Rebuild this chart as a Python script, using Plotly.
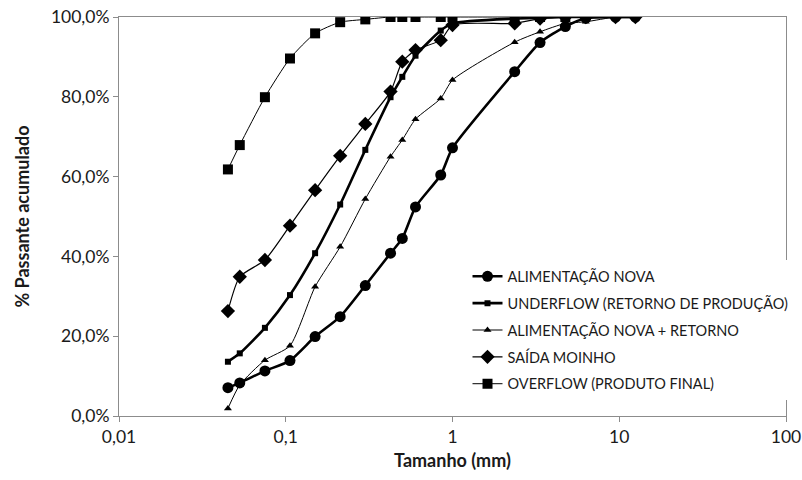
import plotly.graph_objects as go

# Sieve sizes (mm)
sizes = [0.045, 0.053, 0.075, 0.106, 0.150, 0.212, 0.300, 0.425, 0.500, 0.600,
         0.850, 1.00, 2.36, 3.35, 4.75, 6.3, 9.5, 12.5]

alim_nova = [7.1, 8.3, 11.3, 13.9, 19.9, 24.9, 32.7, 40.8, 44.5, 52.4,
             60.4, 67.2, 86.3, 93.6, 97.6, 99.7, 100.0, 100.0]
underflow = [13.6, 15.7, 22.1, 30.3, 40.8, 53.0, 66.7, 79.9, 85.0, 90.3,
             96.6, 98.4, 99.6, 99.8, 100.0, 100.0, 100.0, 100.0]
alim_ret = [1.9, 7.8, 14.0, 17.6, 32.4, 42.4, 54.4, 65.0, 69.2, 74.4,
            79.6, 84.2, 93.7, 96.3, 98.4, 98.8, 100.0, 100.0]
saida = [26.3, 34.9, 39.1, 47.7, 56.6, 65.2, 73.2, 81.3, 88.8, 91.7,
         94.2, 98.0, 98.4, 99.6, 100.0, 100.0, 100.0, 100.0]
overflow_sizes = [0.045, 0.053, 0.075, 0.106, 0.150, 0.212, 0.300, 0.425, 0.500,
                  0.600, 0.850, 1.00, 2.36, 3.35, 4.75]
overflow = [61.8, 67.9, 79.9, 89.6, 95.9, 98.7, 99.4, 100.0, 100.0,
            100.0, 100.0, 100.0, 100.0, 100.0, 100.0]

names = ["ALIMENTAÇÃO NOVA", "UNDERFLOW (RETORNO DE PRODUÇÃO)",
         "ALIMENTAÇÃO NOVA + RETORNO", "SAÍDA MOINHO", "OVERFLOW (PRODUTO FINAL)"]

y_ticks = [0, 20, 40, 60, 80, 100]
y_ticktext = ["0,0%", "20,0%", "40,0%", "60,0%", "80,0%", "100,0%"]
x_ticks = [0.01, 0.1, 1, 10, 100]
x_ticktext = ["0,01", "0,1", "1", "10", "100"]

FONT = "Lato"
TXT = "#1a1a1a"

fig = go.Figure()
series = [
    (sizes, alim_nova, names[0], "circle", 11, 2.6),
    (sizes, underflow, names[1], "square", 6, 2.6),
    (sizes, alim_ret, names[2], "triangle-up", 7, 1.0),
    (sizes, saida, names[3], "diamond", 11, 1.2),
    (overflow_sizes, overflow, names[4], "square", 10, 1.0),
]
for i, (xs, ys, nm, sym, msz, lw) in enumerate(series):
    fig.add_trace(go.Scatter(
        x=xs, y=ys, name=nm, mode="lines+markers",
        line=dict(color="black", width=lw, shape="spline", smoothing=0.6),
        marker=dict(symbol=sym, size=msz, color="black"),
        legendgroup=f"g{i}",
    ))

fig.update_layout(
    width=802, height=480, autosize=False,
    margin=dict(l=119, r=16, t=17, b=64, autoexpand=False),
    paper_bgcolor="white", plot_bgcolor="white",
    font=dict(family=FONT, size=17.5, color=TXT),
    showlegend=True,
    legend=dict(
        x=0.5225, xanchor="left", y=0.39, yanchor="top",
        bgcolor="rgba(255,255,255,1)", borderwidth=0,
        font=dict(family=FONT, size=14.5, color=TXT),
        tracegroupgap=5,
    ),
)
fig.update_xaxes(
    type="log", range=[-2, 2], automargin=False, ticklabeloverflow="allow",
    tickvals=x_ticks, ticktext=x_ticktext,
    showgrid=False, zeroline=False,
    showline=True, linecolor="#8c8c8c", linewidth=1, mirror=True,
    ticks="outside", ticklen=5, tickcolor="#8c8c8c",
    tickfont=dict(family=FONT, size=17.5, color=TXT),
    title=dict(text="<b>Tamanho (mm)</b>", font=dict(family=FONT, size=18, color=TXT), standoff=8),
)
fig.update_yaxes(
    range=[0, 100], automargin=False, ticklabeloverflow="allow",
    tickvals=y_ticks, ticktext=y_ticktext,
    showgrid=False, zeroline=False,
    showline=True, linecolor="#8c8c8c", linewidth=1, mirror=True,
    ticks="outside", ticklen=5, tickcolor="#8c8c8c",
    tickfont=dict(family=FONT, size=17.5, color=TXT),
    title=dict(text="<b>% Passante acumulado</b>", font=dict(family=FONT, size=18, color=TXT), standoff=16),
)

# Remove the default 8px page margin so the figure sits at the window's top-left.
fig.write_html("out.html", config={"displayModeBar": False},
               post_script="document.body.style.margin='0';")
